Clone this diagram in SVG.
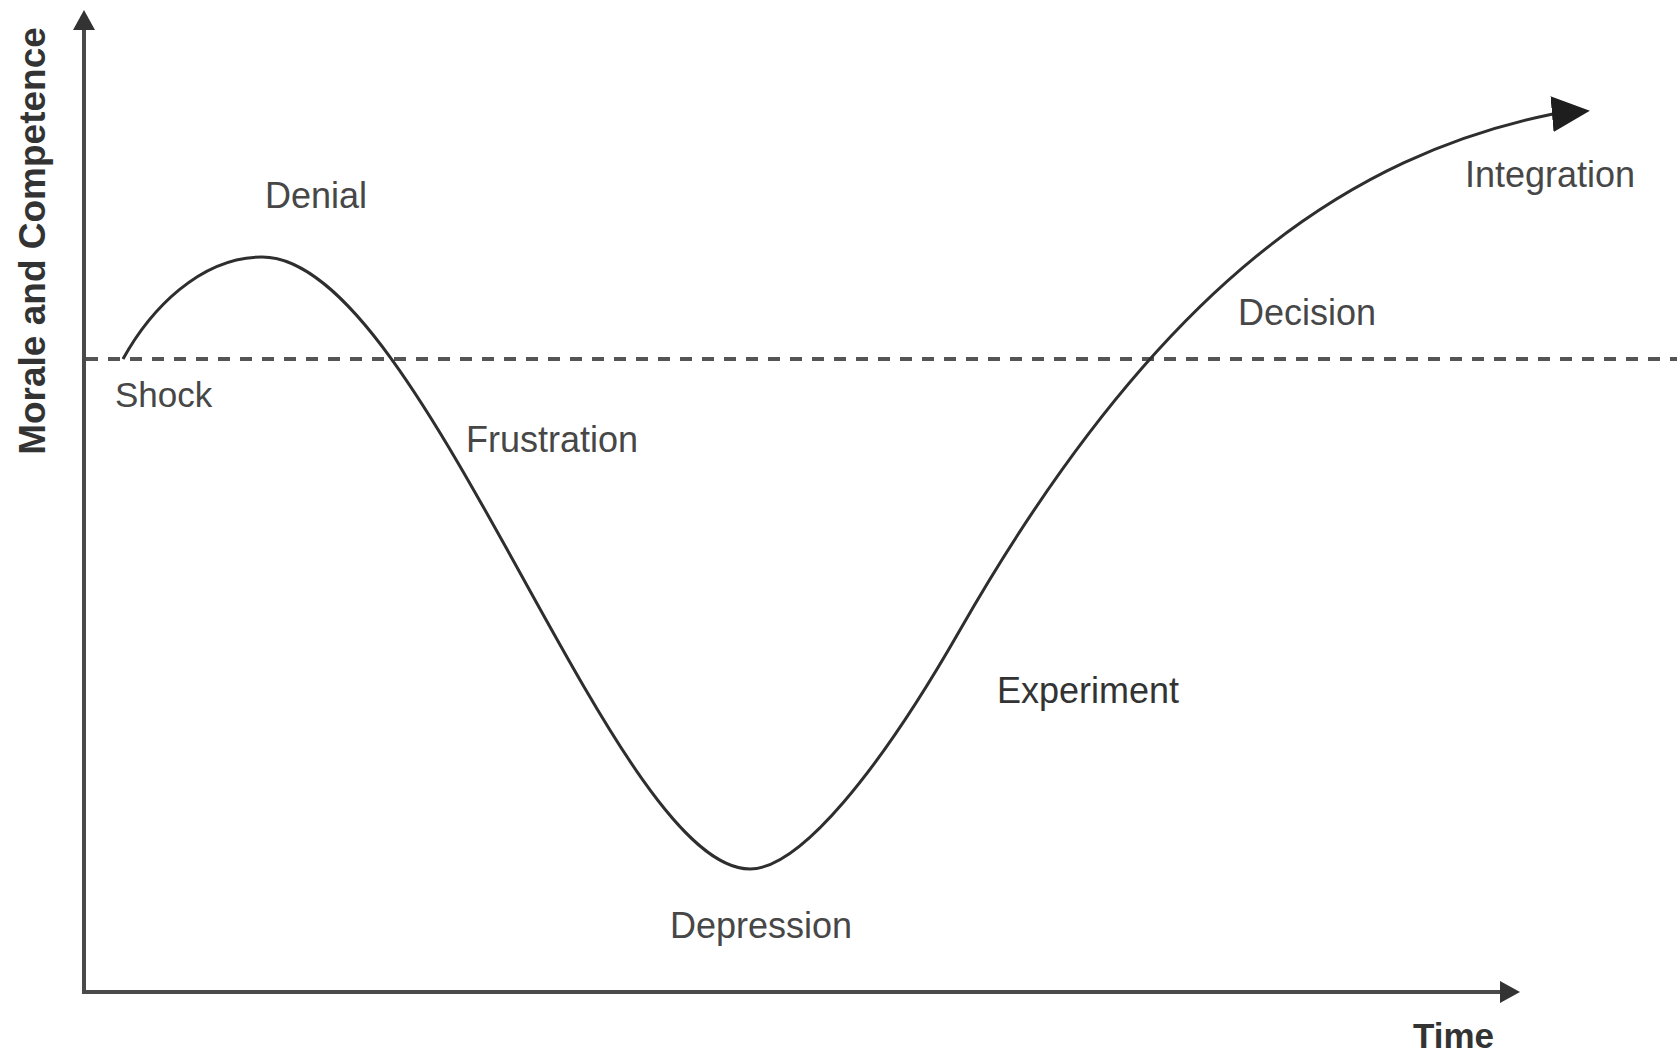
<svg xmlns="http://www.w3.org/2000/svg" width="1677" height="1054" viewBox="0 0 1677 1054">
  <style>
    .axis { stroke: #4a4a4a; stroke-width: 4; fill: none; }
    .dash { stroke: #555555; stroke-width: 4; fill: none; stroke-dasharray: 12 10; }
    .curve { stroke: #2e2e2e; stroke-width: 3; fill: none; }
    .lbl { font-family: "Liberation Sans", Arial, sans-serif; font-size: 36px; fill: #474747; }
    .ttl { font-family: "Liberation Sans", Arial, sans-serif; font-size: 35px; font-weight: bold; fill: #333333; }
  </style>
  <defs>
    <marker id="axArrow" viewBox="0 0 20 22" refX="0" refY="11" markerWidth="20" markerHeight="22" markerUnits="userSpaceOnUse" orient="auto">
      <path d="M0,0 L20,11 L0,22 Z" fill="#333333"/>
    </marker>
    <marker id="curveArrow" viewBox="0 0 38 36" refX="1" refY="18" markerWidth="38" markerHeight="36" markerUnits="userSpaceOnUse" orient="-5">
      <path d="M0,0 L38,18 L0,36 Z" fill="#1e1e1e"/>
    </marker>
  </defs>
  <rect x="0" y="0" width="1677" height="1054" fill="#ffffff"/>

  <g id="connectors">
    <line id="y-axis" class="axis" x1="84" y1="992" x2="84" y2="30" marker-end="url(#axArrow)"/>
    <line id="x-axis" class="axis" x1="82" y1="992" x2="1500" y2="992" marker-end="url(#axArrow)"/>
    <line id="baseline" class="dash" x1="86" y1="359" x2="1677" y2="359"/>
    <path id="change-curve" class="curve" d="M123,359 C150,310 200,257 262,257 C423,257 612,869 750,869 C800,869 880,770 960,630 C1160,280 1353,155 1553,114" marker-end="url(#curveArrow)"/>
  </g>

  <g id="axis-y-label">
    <text class="ttl" transform="translate(45,241) rotate(-90)" text-anchor="middle" style="font-size:37px">Morale and Competence</text>
  </g>
  <g id="axis-x-label">
    <text class="ttl" x="1413" y="1048">Time</text>
  </g>
  <g id="node-shock"><text class="lbl" x="115" y="407" style="font-size:35px">Shock</text></g>
  <g id="node-denial"><text class="lbl" x="265" y="208">Denial</text></g>
  <g id="node-frustration"><text class="lbl" x="466" y="452">Frustration</text></g>
  <g id="node-depression"><text class="lbl" x="670" y="938">Depression</text></g>
  <g id="node-experiment"><text class="lbl" x="997" y="703" style="fill:#333333">Experiment</text></g>
  <g id="node-decision"><text class="lbl" x="1238" y="325">Decision</text></g>
  <g id="node-integration"><text class="lbl" x="1465" y="187">Integration</text></g>
</svg>
